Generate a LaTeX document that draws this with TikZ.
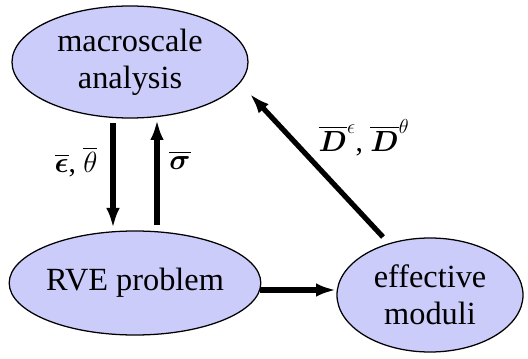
\documentclass[tikz,border=0pt]{standalone}
\usepackage{amsmath}
\usepackage{fontspec}
\setmainfont{Liberation Serif}
\usepackage{tikz}
\usetikzlibrary{shapes.geometric, arrows.meta, positioning}

\definecolor{blobfill}{RGB}{204,204,250}

\begin{document}
\begin{tikzpicture}[
        blob/.style={draw, ellipse, fill=blobfill, line width=0.9pt, inner sep=0pt, align=center,
            font=\fontsize{23}{26}\selectfont},
        arrow/.style={-{Latex[length=5mm, width=3.4mm]}, line width=3.7pt},
        lbl/.style={font=\fontsize{21}{24}\selectfont}
    ]
        \useasboundingbox (0,0) rectangle (13.2,8.95);

        % Ellipses
        \node[blob, minimum width=5.9cm, minimum height=2.8cm] (macro) at (3.25,7.40) {macroscale\\analysis};
        \node[blob, minimum width=5.6cm, minimum height=2.6cm] (rve) at (3.375,1.875) {RVE problem};
        \node[blob, minimum width=4.65cm, minimum height=2.85cm] (eff) at (10.75,1.575) {effective\\moduli};

        % Arrow ends
        \coordinate (dtop) at (2.825,5.88);
        \coordinate (dbot) at (2.825,3.25);
        \coordinate (ubot) at (3.925,3.33);
        \coordinate (utop) at (3.925,5.95);
        \coordinate (rbeg) at (6.5,1.7);
        \coordinate (rend) at (8.4,1.7);
        \coordinate (gbeg) at (9.575,3.025);
        \coordinate (gend) at (6.25,6.6);

        % Connections
        \draw[arrow] (dtop) -- (dbot);
        \draw[arrow] (ubot) -- (utop);
        \draw[arrow] (rbeg) -- (rend);
        \draw[arrow] (gbeg) -- (gend);

        % Labels
        \node[lbl] (strain) at (1.9,4.9) {$\overline{\boldsymbol{\epsilon}}$, $\overline{\theta}$};
        \node[lbl] (stress) at (4.5,4.95) {$\overline{\boldsymbol{\sigma}}$};
        \node[lbl] (moduli) at (9.1,5.5) {$\overline{\boldsymbol{D}}^{\epsilon}$, $\overline{\boldsymbol{D}}^{\theta}$};

    \end{tikzpicture}
\end{document}
